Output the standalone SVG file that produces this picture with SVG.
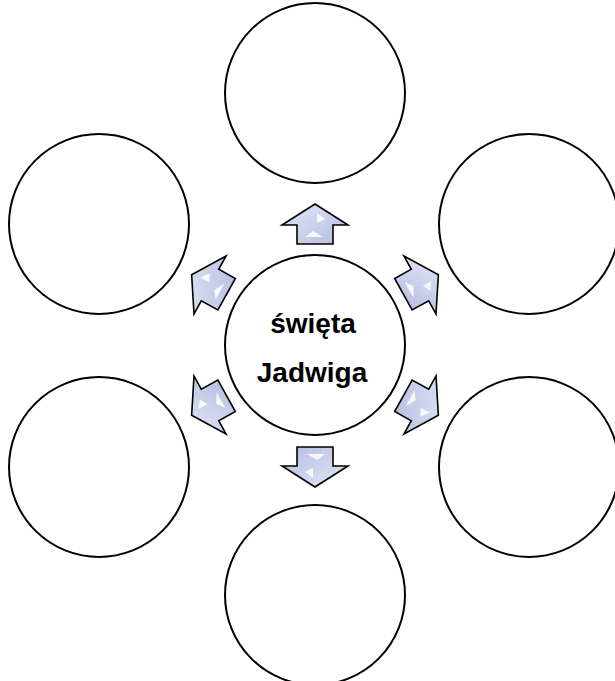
<svg xmlns="http://www.w3.org/2000/svg" width="615" height="681" viewBox="0 0 615 681">
<style>
.c{fill:#fff;stroke:#000;stroke-width:2}
.a{fill:url(#g);stroke:#000;stroke-width:1.6;stroke-linejoin:miter}
.h{fill:#fff;opacity:0.85}
.t{font-family:"Liberation Sans",Arial,sans-serif;font-weight:bold;font-size:28px;fill:#000;text-anchor:middle}
</style>
<defs>
<linearGradient id="g" x1="0" y1="0" x2="1" y2="1">
<stop offset="0" stop-color="#e2e6f6"/>
<stop offset="1" stop-color="#b4bde0"/>
</linearGradient>
<g id="arr">
<polygon class="a" points="0,-21 33,0 18,0 18,19 -18,19 -18,0 -33,0"/>
<polygon class="h" points="2,-12 10,-6 2,-2"/>
<polygon class="h" points="-10,12 -2,6 8,12"/>
</g>
</defs>
<g id="nodes">
<g id="n-top"><circle class="c" cx="315" cy="93" r="90"/></g>
<g id="n-ul"><circle class="c" cx="99" cy="224" r="90"/></g>
<g id="n-ur"><circle class="c" cx="529" cy="224" r="90"/></g>
<g id="n-ll"><circle class="c" cx="99" cy="467" r="90"/></g>
<g id="n-lr"><circle class="c" cx="529" cy="467" r="90"/></g>
<g id="n-bottom"><circle class="c" cx="315" cy="595" r="90"/></g>
<g id="n-center"><circle class="c" cx="315" cy="345" r="90"/>
<text class="t" x="313" y="333">święta</text>
<text class="t" x="312" y="382">Jadwiga</text>
</g>
</g>
<g id="connectors">
<use href="#arr" transform="translate(315,225)"/>
<use href="#arr" transform="translate(210,285) rotate(-61)"/>
<use href="#arr" transform="translate(420,285) rotate(61)"/>
<use href="#arr" transform="translate(210,405) rotate(-119)"/>
<use href="#arr" transform="translate(420,405) rotate(119)"/>
<use href="#arr" transform="translate(315,466) rotate(180)"/>
</g>
</svg>
